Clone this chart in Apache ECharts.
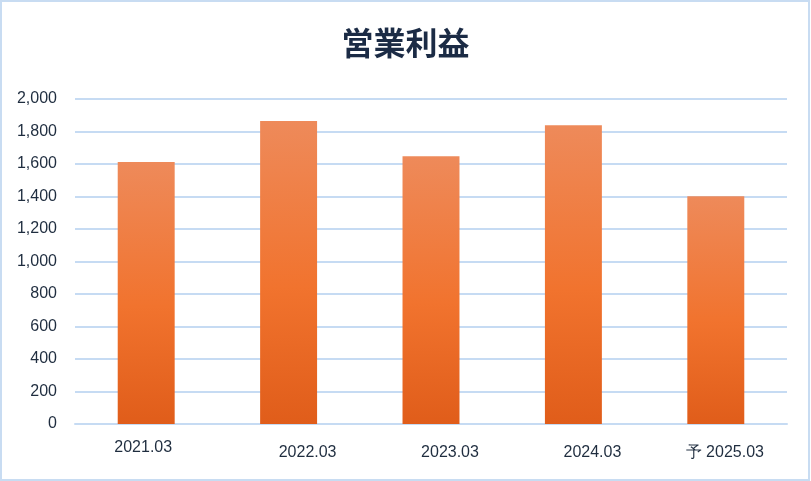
<!DOCTYPE html>
<html><head><meta charset="utf-8">
<script src="https://cdn.jsdelivr.net/npm/echarts@6/dist/echarts.min.js"></script>
<style>html,body{margin:0;padding:0;background:#fff}#c{width:811px;height:481px}</style>
</head><body><div id="c"></div>
<script>
const title = '営業利益';
const categories = ['2021.03', '2022.03', '2023.03', '2024.03', '予 2025.03'];
const values = [1612, 1865, 1648, 1838, 1402];
const yTicks = { min: 0, max: 2000, interval: 200 };

// label offsets (style only): [top, right, bottom, left]
const labelPads = [[0,6,0,0],[5,0,0,38],[5,0,0,38],[5,0,0,38],[5,0,0,18]];
const rich = {};
labelPads.forEach((p, i) => { rich['a' + i] = { padding: p, fontSize: 16, color: '#1f2d3f', fontFamily: 'Liberation Sans' }; });

const chart = echarts.init(document.getElementById('c'));
chart.setOption({
  animation: false,
  backgroundColor: '#fff',
  title: { text: title, left: 'center', top: 22,
    textStyle: { fontSize: 32, fontWeight: 'bold', color: '#1b2b45', fontFamily: 'Noto Sans CJK JP' } },
  graphic: [{ type: 'rect', shape: { x: 1, y: 1, width: 808, height: 479 }, style: { fill: 'none', stroke: '#c8dcf2', lineWidth: 2 }, z: 100 }],
  grid: { left: 75, right: 24, top: 99, bottom: 57 },
  xAxis: {
    type: 'category', data: categories,
    axisLine: { lineStyle: { color: '#c6dbf3', width: 2 } },
    axisTick: { show: false },
    axisLabel: { margin: 16, interval: 0,
      formatter: (v, i) => '{a' + i + '|' + v + '}', rich: rich }
  },
  yAxis: {
    type: 'value', min: yTicks.min, max: yTicks.max, interval: yTicks.interval,
    axisLine: { show: false }, axisTick: { show: false },
    splitLine: { lineStyle: { color: '#c6dbf3', width: 2 } },
    axisLabel: { margin: 18, fontSize: 16, color: '#1f2d3f', fontFamily: 'Liberation Sans',
      formatter: v => v.toLocaleString('en-US') }
  },
  series: [{
    type: 'bar', data: values, barWidth: '40%',
    itemStyle: { color: new echarts.graphic.LinearGradient(0, 0, 0, 1, [
      { offset: 0, color: '#ee8a5a' }, { offset: 0.55, color: '#f1732e' }, { offset: 1, color: '#e05d1a' }]) }
  }]
});
</script></body></html>
